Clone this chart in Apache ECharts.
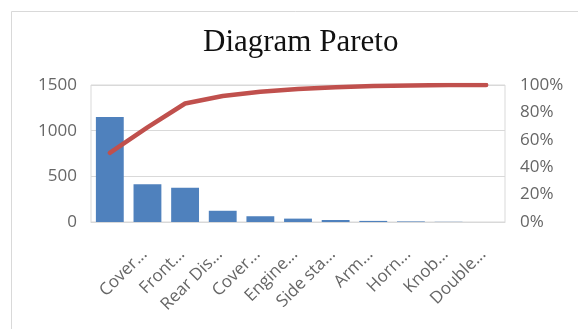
<!DOCTYPE html>
<html>
<head>
<meta charset="utf-8">
<script src="https://cdn.jsdelivr.net/npm/echarts@6/dist/echarts.min.js"></script>
<style>
html,body{margin:0;padding:0;background:#fff;}
#c{width:578px;height:329px;}
</style>
</head>
<body>
<div id="c"></div>
<script>
// Data
const categories = ['Cover...', 'Front...', 'Rear Dis...', 'Cover...', 'Engine...', 'Side sta...', 'Arm...', 'Horn...', 'Knob...', 'Double...', ''];
const counts = [1150, 414, 375, 123, 63, 37, 22, 12, 6, 2, 0];
const cumulativePct = [50.5, 69, 86.5, 92, 95, 97, 98.3, 99.2, 99.7, 100, 100];
const leftTicks = [0, 500, 1000, 1500];
const rightTicks = [0, 20, 40, 60, 80, 100];

const chart = echarts.init(document.getElementById('c'), null, {renderer: 'canvas'});
const labelFont = 'Open Sans';
chart.setOption({
  backgroundColor: '#fff',
  animation: false,
  graphic: [{
    type: 'rect', left: 9, top: 9, silent: true,
    shape: {width: 620, height: 400},
    style: {fill: 'none', stroke: '#d9d9d9', lineWidth: 1}
  }],
  title: {
    text: 'Diagram Pareto',
    left: 203, top: 27, padding: 0,
    textStyle: {fontFamily: 'Liberation Serif', fontSize: 31, fontWeight: 'normal', color: '#111'}
  },
  grid: {left: 91, right: 73, top: 85, bottom: 107, show: true, borderColor: '#d9d9d9', borderWidth: 1, containLabel: false, outerBoundsMode: 'none'},
  xAxis: {
    type: 'category',
    data: categories,
    axisLine: {show: true, lineStyle: {color: '#d9d9d9'}},
    axisTick: {show: false},
    axisLabel: {
      interval: 0, rotate: 45, margin: -5,
      lineHeight: 98,
      formatter: function (v) { return v ? '\n' + v : ''; },
      fontFamily: labelFont, fontSize: 17, color: '#666'
    }
  },
  yAxis: [{
    type: 'value', min: leftTicks[0], max: leftTicks[leftTicks.length - 1], interval: 500,
    axisLine: {show: false}, axisTick: {show: false},
    splitLine: {lineStyle: {color: '#d9d9d9'}},
    axisLabel: {margin: 14, formatter: function (v) { return String(v); }, fontFamily: labelFont, fontSize: 17, color: '#666'}
  }, {
    type: 'value', min: rightTicks[0], max: rightTicks[rightTicks.length - 1], interval: 20,
    axisLine: {show: false}, axisTick: {show: false},
    splitLine: {show: false},
    axisLabel: {margin: 15, formatter: '{value}%', fontFamily: labelFont, fontSize: 17, color: '#666'}
  }],
  series: [{
    type: 'bar',
    data: counts,
    yAxisIndex: 0,
    barCategoryGap: '26%',
    itemStyle: {color: '#4f81bd'}
  }, {
    type: 'line',
    data: cumulativePct,
    yAxisIndex: 1,
    symbol: 'none',
    lineStyle: {color: '#c0504d', width: 4.5, cap: 'round', join: 'round'}
  }]
});
</script>
</body>
</html>
